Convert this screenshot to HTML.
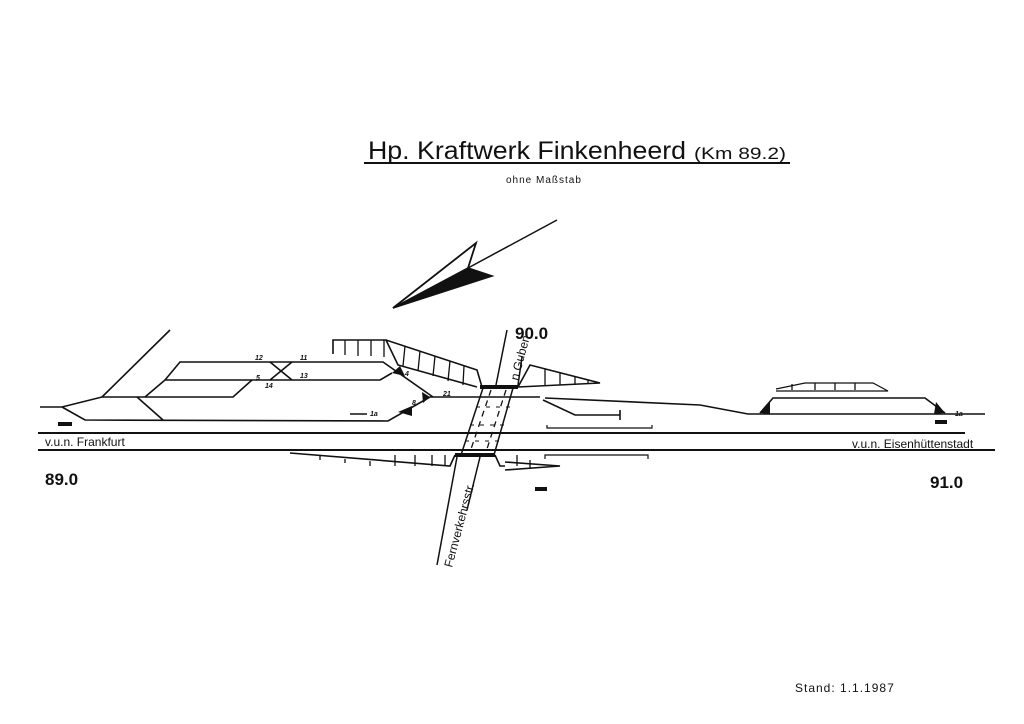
<!DOCTYPE html>
<html><head><meta charset="utf-8"><style>
html,body{margin:0;padding:0;background:#fff;}
svg{display:block;}
text{font-family:"Liberation Sans",sans-serif;fill:#111;}
</style></head><body>
<svg width="1024" height="724" viewBox="0 0 1024 724" xmlns="http://www.w3.org/2000/svg">
<rect width="1024" height="724" fill="#fff"/>
<g stroke="#111" fill="none" stroke-width="1.6">
<line x1="364" y1="163" x2="790" y2="163" stroke-width="2"/>
<line x1="468" y1="268" x2="557" y2="220" stroke-width="1.5"/>
<polyline points="393,308 476,243 468,268" stroke-width="1.8"/>
<polygon points="393,308 468,268 492,276" fill="#111"/>
<line x1="38" y1="433" x2="965" y2="433" stroke-width="2"/>
<line x1="38" y1="450" x2="995" y2="450" stroke-width="2"/>
<polyline points="40,407 62,407 102,397 233,397 252,380"/>
<polyline points="62,407 85,420 388,421 430,397"/>
<line x1="102" y1="397" x2="170" y2="330"/>
<line x1="137" y1="397" x2="163" y2="420"/>
<polyline points="145,397 165,380 380,380 392,373"/>
<polyline points="165,380 180,362 383,362 433,397"/>
<line x1="270" y1="362" x2="292" y2="380"/>
<line x1="292" y1="362" x2="270" y2="380"/>
<line x1="430" y1="397" x2="540" y2="397"/>
<polyline points="545,398 700,405 748,414 950,414 985,414"/>
<polyline points="543,400 575,415 620,415"/>
<line x1="620" y1="410" x2="620" y2="420"/>
<polyline points="350,414 367,414"/>
<polyline points="547,425 547,428 652,428 652,425" stroke-width="1.2"/>
<polyline points="545,459 545,455 648,455 648,459" stroke-width="1.2"/>
<polyline points="760,413 773,398 925,398 945,413"/>
<polyline points="776,389 805,383 873,383 888,391 776,391" stroke-width="1.2"/>
<polyline points="333,354 333,340 386,340 477,370 482,387"/>
<polyline points="386,340 398,365 477,387"/>
<polyline points="518,387 530,365 600,383 518,387"/>
<polyline points="290,453 450,466 455,455"/>
<polyline points="495,455 500,466 505,466"/>
<polyline points="505,462 560,466 505,470"/>
</g>
<g stroke="#111" stroke-width="1.3">
<line x1="345" y1="340" x2="345" y2="355"/><line x1="358" y1="340" x2="358" y2="356"/><line x1="371" y1="340" x2="371" y2="356"/><line x1="384" y1="340" x2="384" y2="357"/>
<line x1="405" y1="346" x2="403" y2="366"/><line x1="420" y1="351" x2="418" y2="371"/><line x1="435" y1="356" x2="433" y2="376"/><line x1="450" y1="361" x2="448" y2="381"/><line x1="464" y1="366" x2="463" y2="385"/>
<line x1="545" y1="369" x2="545" y2="386"/><line x1="560" y1="373" x2="560" y2="385"/><line x1="575" y1="377" x2="575" y2="385"/><line x1="588" y1="380" x2="588" y2="384"/>
<line x1="320" y1="456" x2="320" y2="460"/><line x1="345" y1="459" x2="345" y2="463"/><line x1="370" y1="461" x2="370" y2="466"/><line x1="395" y1="455" x2="395" y2="466"/><line x1="415" y1="455" x2="415" y2="466"/><line x1="432" y1="455" x2="432" y2="466"/><line x1="445" y1="455" x2="445" y2="466"/>
<line x1="517" y1="455" x2="517" y2="466"/><line x1="530" y1="460" x2="530" y2="468"/>
<line x1="792" y1="384" x2="792" y2="390"/><line x1="815" y1="383" x2="815" y2="390"/><line x1="835" y1="383" x2="835" y2="390"/><line x1="855" y1="383" x2="855" y2="390"/>
</g>
<g stroke="#111">
<line x1="480" y1="387" x2="518" y2="387" stroke-width="4"/>
<line x1="455" y1="455" x2="495" y2="455" stroke-width="4"/>
<line x1="483" y1="388" x2="461" y2="455" stroke-width="1.5"/>
<line x1="513" y1="388" x2="494" y2="455" stroke-width="1.5"/>
<line x1="491" y1="390" x2="470" y2="452" stroke-width="1.3" stroke-dasharray="6,5"/>
<line x1="506" y1="390" x2="486" y2="452" stroke-width="1.3" stroke-dasharray="6,5"/>
<line x1="476" y1="407" x2="510" y2="407" stroke-width="1" stroke-dasharray="4,6"/>
<line x1="470" y1="425" x2="504" y2="425" stroke-width="1" stroke-dasharray="4,6"/>
<line x1="465" y1="441" x2="499" y2="441" stroke-width="1" stroke-dasharray="4,6"/>
<line x1="496" y1="385" x2="507" y2="330" stroke-width="1.5"/>
<line x1="518" y1="385" x2="522" y2="357" stroke-width="1.5"/>
<line x1="457" y1="457" x2="437" y2="565" stroke-width="1.5"/>
<line x1="480" y1="457" x2="467" y2="510" stroke-width="1.5"/>
</g>
<g fill="#111">
<polygon points="392,373 400,366 405,376"/>
<polygon points="430,397 422,392 423,403"/>
<polygon points="398,412 412,406 412,416"/>
<polygon points="760,413 770,402 770,414"/>
<polygon points="945,413 936,402 934,414"/>
<rect x="58" y="422" width="14" height="4"/>
<rect x="535" y="487" width="12" height="4"/>
<rect x="935" y="420" width="12" height="4"/>
</g>
<text x="368" y="159" font-size="25" textLength="318" lengthAdjust="spacingAndGlyphs">Hp. Kraftwerk  Finkenheerd</text>
<text x="694" y="159" font-size="17" textLength="92" lengthAdjust="spacingAndGlyphs">(Km 89.2)</text>
<text x="506" y="183" font-size="10" letter-spacing="1">ohne   Maßstab</text>
<text x="515" y="339" font-size="17" font-weight="bold">90.0</text>
<text x="45" y="485" font-size="17" font-weight="bold">89.0</text>
<text x="930" y="488" font-size="17" font-weight="bold">91.0</text>
<text x="45" y="446" font-size="12">v.u.n. Frankfurt</text>
<text x="852" y="448" font-size="12">v.u.n. Eisenhüttenstadt</text>
<text x="795" y="692" font-size="12" letter-spacing="1">Stand: 1.1.1987</text>
<text transform="translate(518,381) rotate(-75)" font-size="12">n.Guben</text>
<text transform="translate(452,568) rotate(-75)" font-size="12">Fernverkehrsstr.</text>
<g font-size="7" font-style="italic" font-weight="bold">
<text x="255" y="360">12</text><text x="300" y="360">11</text><text x="300" y="378">13</text>
<text x="265" y="388">14</text><text x="256" y="380">5</text>
<text x="405" y="376">4</text><text x="443" y="396">21</text><text x="412" y="405">8</text>
<text x="370" y="416">1a</text><text x="955" y="416">1a</text>
</g>
</svg>
</body></html>
